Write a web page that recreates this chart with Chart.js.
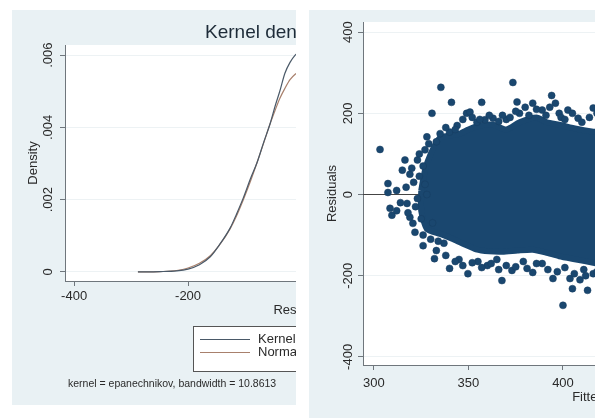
<!DOCTYPE html>
<html>
<head>
<meta charset="utf-8">
<script src="https://cdn.jsdelivr.net/npm/chart.js@4.4.0/dist/chart.umd.min.js"></script>
<style>
  html, body { margin: 0; padding: 0; background: #fff; }
  body { width: 595px; height: 418px; position: relative; overflow: hidden; }
  .panel { position: absolute; overflow: hidden; background: #e9f1f4; }
</style>
</head>
<body>
<div class="panel" style="left:12px;top:10px;width:284px;height:395px">
  <canvas id="kdChart" width="586" height="395"></canvas>
</div>
<div class="panel" style="left:309px;top:10px;width:286px;height:408px">
  <canvas id="rvChart" width="580" height="408"></canvas>
</div>
<script>
// --- data: kernel density panel ---
const kdResid = [-288, -250, -220, -200, -180, -161, -145, -126, -115, -103, -90, -79, -67, -56, -47, -39, -30, -21, -12, -5];
const kdKernel = [0, 0.00001, 0.00003, 0.00008, 0.0002, 0.00042, 0.00075, 0.00122, 0.0016, 0.00205, 0.0026, 0.00302, 0.0036, 0.0041, 0.0046, 0.005, 0.0055, 0.0058, 0.006, 0.0061];
const kdNormal = [0, 0.00001, 0.00004, 0.00011, 0.00024, 0.00045, 0.00074, 0.0012, 0.00155, 0.002, 0.00253, 0.00302, 0.00358, 0.0041, 0.00448, 0.0048, 0.00508, 0.00532, 0.00547, 0.00554];
const kdXTicks = [-400, -200, 0, 200, 400];
const kdXLabels = ['-400', '-200', '0', '200', '400'];
const kdYTicks = [0, 0.002, 0.004, 0.006];
const kdYLabels = ['0', '.002', '.004', '.006'];
const kdSeries = ['Kernel density estimate', 'Normal density'];
const kdTitle = 'Kernel density estimate';
const kdNote = 'kernel = epanechnikov, bandwidth = 10.8613';

// --- data: residual vs fitted panel ---
// dense core of the cloud (outline)
const blobFit = [325, 327, 330, 335, 340, 345.5, 350, 356, 363, 370, 377, 386, 391.5, 398, 407, 416, 425,
                 425, 416, 407, 398, 391, 384, 376, 368, 361, 354, 348, 342, 335, 328, 325, 325];
const blobRes = [10, 60, 100, 140, 145, 150, 160, 170, 172, 160, 178, 190, 178, 172, 162, 155, 150,
                 -175, -168, -160, -152, -143, -136, -138, -141, -140, -135, -123, -110, -97, -85, -40, 10];
// individual points on the fringe of the cloud
const fitVals = [303.2, 307.4, 307.4, 308.5, 309.5, 312, 314, 316.4, 317, 317.5, 319, 320.6, 321.7, 319, 321, 323, 322, 324, 325, 326,
                 326, 327, 328, 328, 330.7, 332, 333, 335, 335.4, 337, 340, 340, 341, 344, 345, 349, 349.7, 350.8, 354.5, 355,
                 357, 358.7, 360, 363, 365, 367.7, 370, 373, 373.5, 375.7, 377, 379, 384, 384, 389, 389, 394, 394.7, 396, 398,
                 400, 402.6, 403.7, 405, 408, 409, 411, 413, 416, 416, 420, 420,
                 338, 343, 347, 352, 356, 361, 366, 368, 372, 375, 380, 382, 386, 391, 393, 399, 401, 405, 410, 414, 418, 422,
                 312, 315, 318, 320, 323, 324, 326, 327, 329, 330, 331, 333, 334,
                 338, 343, 347, 352, 357, 362, 366, 370, 375, 381, 386, 392, 397, 401, 406, 412, 418, 422];
const resVals = [111, 27, 5, -34, -51, 10, -20, 85, 18, -22, -56, -71, -93, 50, 30, 85, -30, 45, -60, -126,
                 70, 110, 142, 0, 200, -158, -138, 150, 264, -120, 154, -182, 227, 170, -160, 200, -195, 203, 178, -165,
                 227, 184, -175, 188, -160, -212, 185, -187, 276, 228, 200, -165, 225, -192, 208, -170, 244, -207, 225, 200,
                 -273, 208, -207, -232, 188, -210, -185, -236, 213, -195, 230, -200,
                 165, 160, 185, 190, 185, 195, 180, 195, 190, 205, 215, 195, 210, 195, 215, 190, 185, 200, 178, 190, 200, 210,
                 -40, 60, -45, 65, -10, 100, -100, 25, 125, -110, -70, 130, -115,
                 -150, -165, -175, -168, -180, -170, -185, -175, -178, -182, -170, -185, -190, -180, -195, -200, -190, -205];
const rvXTicks = [300, 350, 400, 450, 500, 550];
const rvYTicks = [-400, -200, 0, 200, 400];
const refLine = 0;
const rvXMin = 294.2, rvXMax = 554.5;

// --- styles ---
const FONT = "'Liberation Sans', Arial, sans-serif";
const navy = '#1a476f';
const axisColor = '#6f767c';
const gridColor = '#edf2f4';
const textColor = '#2a2a2a';

// white plot region + rotated y tick labels + stata-like title/legend/note
const plotRegion = {
    id: 'plotRegion',
    beforeDraw(chart) {
        const a = chart.chartArea, ctx = chart.ctx;
        ctx.save();
        ctx.fillStyle = '#ffffff';
        ctx.fillRect(a.left, a.top, a.right - a.left, a.bottom - a.top);
        ctx.restore();
    }
};

const rotatedYTicks = {
    id: 'rotatedYTicks',
    afterDraw(chart, args, opts) {
        const s = chart.scales.y, ctx = chart.ctx;
        ctx.save();
        ctx.font = '13px ' + FONT;
        ctx.fillStyle = textColor;
        ctx.textAlign = 'center';
        ctx.textBaseline = 'middle';
        opts.values.forEach((v, i) => {
            ctx.save();
            ctx.translate(opts.x, s.getPixelForValue(v));
            ctx.rotate(-Math.PI / 2);
            ctx.fillText(opts.labels[i], 0, 0);
            ctx.restore();
        });
        ctx.restore();
    }
};

const stataLegend = {
    id: 'stataLegend',
    afterDraw(chart, args, opts) {
        if (!opts.show) return;
        const ctx = chart.ctx;
        ctx.save();
        // title
        ctx.font = '19px ' + FONT;
        ctx.fillStyle = '#1d2b38';
        ctx.textBaseline = 'middle';
        ctx.fillText(kdTitle, 193, 23);
        // legend box
        ctx.fillStyle = '#ffffff';
        ctx.fillRect(181, 316, 218, 45);
        ctx.strokeStyle = '#555';
        ctx.lineWidth = 1;
        ctx.strokeRect(181.5, 316.5, 218, 45);
        ctx.font = '13px ' + FONT;
        chart.data.datasets.forEach((ds, i) => {
            const y = 329.5 + i * 13;
            ctx.strokeStyle = ds.borderColor;
            ctx.beginPath();
            ctx.moveTo(188, y);
            ctx.lineTo(238, y);
            ctx.stroke();
            ctx.fillStyle = textColor;
            ctx.fillText(ds.label, 246, y);
        });
        // note
        ctx.font = '10.5px ' + FONT;
        ctx.fillStyle = textColor;
        ctx.fillText(kdNote, 56, 374);
        ctx.restore();
    }
};

Chart.register(plotRegion, rotatedYTicks, stataLegend);

document.addEventListener('DOMContentLoaded', () => {
    initDensityChart();
    initResidualChart();
});

function initDensityChart() {
    new Chart(document.getElementById('kdChart'), {
        type: 'line',
        data: {
            datasets: [
                {
                    label: kdSeries[0],
                    data: kdResid.map((x, i) => ({ x, y: kdKernel[i] })),
                    borderColor: '#4a5968',
                    borderWidth: 1.2,
                    pointRadius: 0,
                    cubicInterpolationMode: 'monotone'
                },
                {
                    label: kdSeries[1],
                    data: kdResid.map((x, i) => ({ x, y: kdNormal[i] })),
                    borderColor: '#a8806c',
                    borderWidth: 1.2,
                    pointRadius: 0,
                    cubicInterpolationMode: 'monotone'
                }
            ]
        },
        options: {
            responsive: false,
            animation: false,
            layout: { padding: { left: 0, right: 59, top: 35, bottom: 84 } },
            plugins: {
                legend: { display: false },
                tooltip: { enabled: false },
                rotatedYTicks: { x: 36, values: kdYTicks, labels: kdYLabels },
                stataLegend: { show: true }
            },
            scales: {
                x: {
                    type: 'linear', min: -416, max: 416,
                    afterBuildTicks: s => { s.ticks = kdXTicks.map(v => ({ value: v })); },
                    afterFit: s => { s.height = 40; },
                    grid: { drawOnChartArea: false, tickLength: 5, tickColor: axisColor },
                    border: { color: axisColor },
                    ticks: {
                        autoSkip: false, maxRotation: 0, padding: 3, color: textColor,
                        font: { family: FONT, size: 13 },
                        callback: (v, i) => kdXLabels[i]
                    },
                    title: {
                        display: true, text: 'Residuals', color: textColor,
                        font: { family: FONT, size: 13 }, padding: { top: 0, bottom: 3.2 }
                    }
                },
                y: {
                    type: 'linear', min: -0.00025, max: 0.00628,
                    afterBuildTicks: s => { s.ticks = kdYTicks.map(v => ({ value: v })); },
                    afterFit: s => { s.width = 53; },
                    grid: { color: gridColor, tickLength: 5, tickColor: axisColor },
                    border: { color: axisColor },
                    ticks: { display: false },
                    title: {
                        display: true, text: 'Density', color: textColor,
                        font: { family: FONT, size: 13 }, padding: { top: 13.2, bottom: 0 }
                    }
                }
            }
        }
    });
}

function initResidualChart() {
    new Chart(document.getElementById('rvChart'), {
        type: 'scatter',
        data: {
            datasets: [
                {
                    label: 'Residuals',
                    data: fitVals.map((x, i) => ({ x, y: resVals[i] })),
                    backgroundColor: navy,
                    borderColor: '#173d60',
                    borderWidth: 0.5,
                    pointRadius: 3.5,
                    order: 1
                },
                {
                    type: 'line',
                    label: 'core',
                    data: blobFit.map((x, i) => ({ x, y: blobRes[i] })),
                    backgroundColor: navy,
                    borderColor: navy,
                    borderWidth: 6,
                    borderJoinStyle: 'round',
                    fill: 'shape',
                    pointRadius: 0,
                    tension: 0.2,
                    order: 2
                },
                {
                    type: 'line',
                    label: 'zero',
                    data: [{ x: rvXMin, y: refLine }, { x: rvXMax, y: refLine }],
                    borderColor: '#444',
                    borderWidth: 1,
                    pointRadius: 0,
                    order: 3
                }
            ]
        },
        options: {
            responsive: false,
            animation: false,
            layout: { padding: { left: 0, right: 34, top: 12, bottom: 0 } },
            plugins: {
                legend: { display: false },
                tooltip: { enabled: false },
                rotatedYTicks: { x: 39, values: rvYTicks, labels: rvYTicks.map(String) },
                stataLegend: { show: false }
            },
            scales: {
                x: {
                    type: 'linear', min: rvXMin, max: rvXMax,
                    afterBuildTicks: s => { s.ticks = rvXTicks.map(v => ({ value: v })); },
                    afterFit: s => { s.height = 53; },
                    grid: { drawOnChartArea: false, tickLength: 5, tickColor: axisColor },
                    border: { color: axisColor },
                    ticks: {
                        autoSkip: false, maxRotation: 0, padding: 5.2, color: textColor,
                        font: { family: FONT, size: 13 },
                        callback: (v, i) => String(rvXTicks[i])
                    },
                    title: {
                        display: true, text: 'Fitted values', color: textColor,
                        font: { family: FONT, size: 13 }, padding: { top: 0, bottom: 13.2 }
                    }
                },
                y: {
                    type: 'linear', min: -420, max: 425,
                    afterBuildTicks: s => { s.ticks = rvYTicks.map(v => ({ value: v })); },
                    afterFit: s => { s.width = 54; },
                    grid: { color: gridColor, tickLength: 5, tickColor: axisColor },
                    border: { color: axisColor },
                    ticks: { display: false },
                    title: {
                        display: true, text: 'Residuals', color: textColor,
                        font: { family: FONT, size: 13 }, padding: { top: 15.2, bottom: 0 }
                    }
                }
            }
        }
    });
}
</script>
</body>
</html>
